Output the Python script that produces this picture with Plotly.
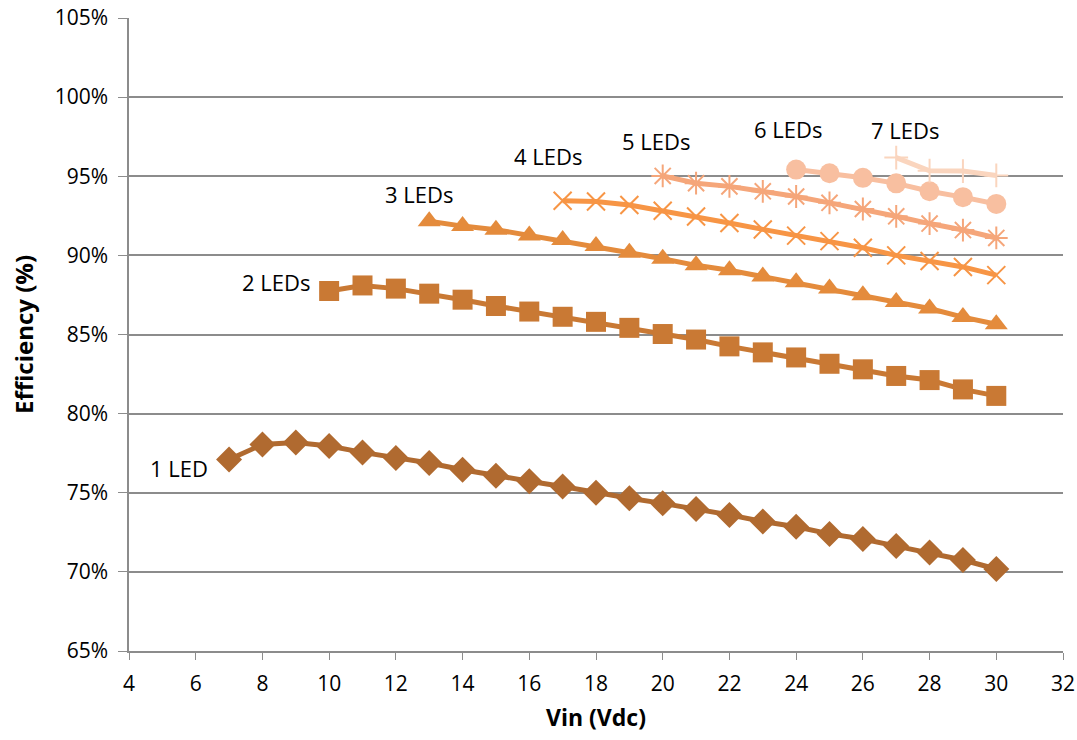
import plotly.graph_objects as go

names = ["1 LED", "2 LEDs", "3 LEDs", "4 LEDs", "5 LEDs", "6 LEDs", "7 LEDs"]

x1 = list(range(7, 31))
y1 = [77.1, 78.05, 78.18, 77.95, 77.55, 77.2, 76.88, 76.45, 76.07, 75.73, 75.4, 75.0,
      74.65, 74.33, 73.98, 73.6, 73.18, 72.85, 72.4, 72.08, 71.63, 71.22, 70.75, 70.18]

x2 = list(range(10, 31))
y2 = [87.75, 88.1, 87.9, 87.58, 87.2, 86.8, 86.45, 86.12, 85.8, 85.42, 85.03, 84.68,
      84.25, 83.87, 83.55, 83.15, 82.8, 82.38, 82.12, 81.53, 81.12]

x3 = list(range(13, 31))
y3 = [92.16, 91.85, 91.62, 91.26, 90.97, 90.59, 90.17, 89.79, 89.37, 89.06, 88.66,
      88.3, 87.9, 87.48, 87.06, 86.64, 86.1, 85.65]

x4 = list(range(17, 31))
y4 = [93.45, 93.4, 93.18, 92.82, 92.46, 92.05, 91.64, 91.25, 90.9, 90.48, 90.0,
      89.64, 89.27, 88.75]

x5 = list(range(20, 31))
y5 = [95.02, 94.56, 94.36, 94.05, 93.72, 93.32, 92.93, 92.47, 92.01, 91.6, 91.1]

x6 = list(range(24, 31))
y6 = [95.42, 95.19, 94.9, 94.55, 94.05, 93.68, 93.25]

x7 = list(range(27, 31))
y7 = [96.18, 95.35, 95.33, 95.05]

xs = [x1, x2, x3, x4, x5, x6, x7]
ys = [y1, y2, y3, y4, y5, y6, y7]

label_x = [5.5, 8.4, 12.7, 16.55, 19.8, 23.75, 27.25]
label_y = [76.55, 88.3, 93.9, 96.25, 97.25, 98.0, 97.9]

x_ticks = list(range(4, 33, 2))
y_ticks = list(range(65, 106, 5))

colors = ["#B06A30", "#C97934", "#E48B3C", "#F79545", "#F5A67A", "#F8BFA0", "#FAD5BE"]
symbols = ["diamond", "square", "triangle-up", "x-thin-open", "asterisk-open",
           "circle", "cross-thin-open"]
msizes = [20, 20, 20, 18, 19, 20, 17]

FONT = "Open Sans"

fig = go.Figure()
for i in range(len(names)):
    open_sym = symbols[i].endswith("open")
    fig.add_trace(go.Scatter(
        x=xs[i], y=ys[i], mode="lines+markers", name=names[i],
        line=dict(color=colors[i], width=5),
        marker=dict(symbol=symbols[i], size=msizes[i], color=colors[i],
                    line=dict(color=colors[i], width=2 if open_sym else 0)),
        showlegend=False,
    ))
    fig.add_annotation(x=label_x[i], y=label_y[i], text=names[i], showarrow=False,
                       font=dict(family=FONT, size=22, color="#000000"))

fig.update_layout(
    width=1077, height=740,
    margin=dict(l=129, r=14, t=18, b=89, autoexpand=False),
    paper_bgcolor="white", plot_bgcolor="white",
    font=dict(family=FONT, size=21, color="#000000"),
)
fig.update_xaxes(
    range=[4, 32], tickmode="array", tickvals=x_ticks,
    ticktext=[str(v) for v in x_ticks],
    showgrid=False, zeroline=False, automargin=False,
    showline=True, linecolor="#8C8C8C", linewidth=1.5,
    ticks="outside", ticklen=7, tickcolor="#8C8C8C",
    ticklabelstandoff=6,
    tickfont=dict(family=FONT, size=21),
    title=dict(text="<b>Vin (Vdc)</b>", font=dict(family=FONT, size=23), standoff=14),
)
fig.update_yaxes(
    range=[65, 105], tickmode="array", tickvals=y_ticks,
    ticktext=[f"{v}%" for v in y_ticks],
    showgrid=True, gridcolor="#8C8C8C", gridwidth=1.5, zeroline=False, automargin=False,
    showline=True, linecolor="#8C8C8C", linewidth=1.5,
    ticks="outside", ticklen=9, tickcolor="#8C8C8C",
    ticklabelstandoff=6,
    tickfont=dict(family=FONT, size=21),
    title=dict(text="<b>Efficiency (%)</b>", font=dict(family=FONT, size=24), standoff=14),
)

fig.write_html("out.html", config={"displayModeBar": False},
               post_script="document.body.style.margin='0';document.body.style.overflow='hidden';")
